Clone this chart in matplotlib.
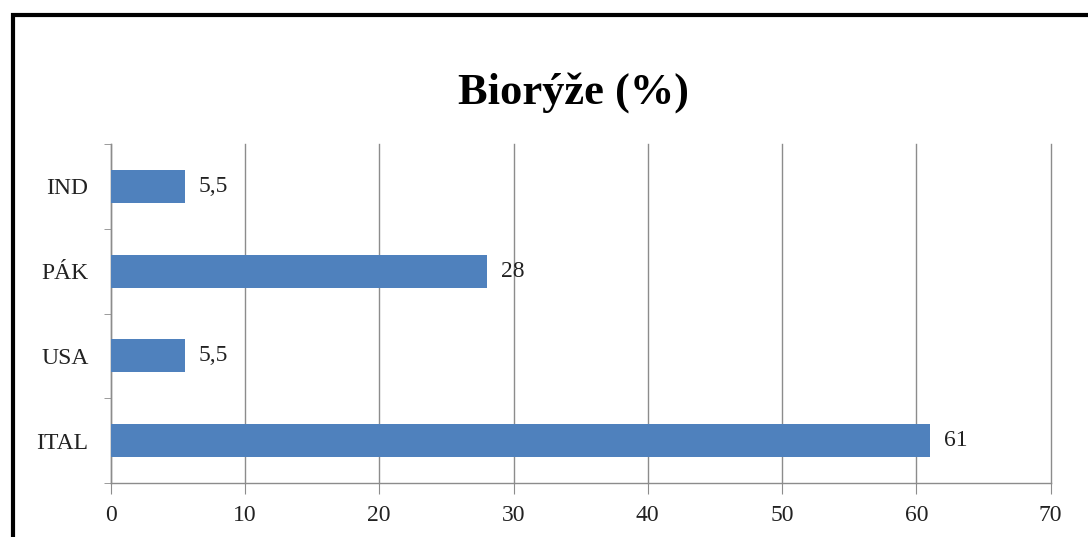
import matplotlib.pyplot as plt
from matplotlib.patches import Rectangle

countries = ["ITAL", "USA", "PÁK", "IND"]
shares = [61, 5.5, 28, 5.5]
share_labels = ["61", "5,5", "28", "5,5"]
x_ticks = [0, 10, 20, 30, 40, 50, 60, 70]

plt.rcParams['font.family'] = ['Liberation Serif', 'DejaVu Serif']

fig = plt.figure(figsize=(10.88, 5.37), dpi=100)
ax = fig.add_axes([0.1017, 0.1006, 0.864, 0.6312])

ypos = list(range(len(countries)))
ax.barh(ypos, shares, height=0.39, color="#4F81BD", zorder=3)
for y, v, lab in zip(ypos, shares, share_labels):
    ax.annotate(lab, (v, y), xytext=(10, 0), textcoords="offset points",
                va="center", ha="left", fontsize=17, color="#222222")

ax.set_xlim(0, 70)
ax.set_ylim(-0.5, len(countries) - 0.5)
ax.set_xticks(x_ticks)
ax.set_yticks(ypos)
ax.set_yticklabels(countries)
ax.set_yticks([i - 0.5 for i in range(len(countries) + 1)], minor=True)

ax.grid(axis="x", color="#8c8c8c", linewidth=1, zorder=0)
for line in ax.get_xgridlines():
    line.set_clip_on(False)
for s in ["top", "right"]:
    ax.spines[s].set_visible(False)
for s in ["left", "bottom"]:
    ax.spines[s].set_color("#8c8c8c")
    ax.spines[s].set_linewidth(1)

ax.tick_params(axis="x", length=8, color="#8c8c8c", labelsize=17, pad=8, labelcolor="#222222")
ax.tick_params(axis="y", which="major", length=0, labelsize=17, pad=16, labelcolor="#222222")
ax.tick_params(axis="y", which="minor", length=5, color="#8c8c8c")

fig.text(0.527, 0.828, "Biorýže (%)", ha="center", va="center",
         fontsize=32, fontweight="bold", color="black")

# outer frame of the chart area
fig.patches.append(Rectangle((12.5 / 1088, -0.2), 1.2, 1 - 14.5 / 537 + 0.2,
                             transform=fig.transFigure, fill=False,
                             edgecolor="black", linewidth=3, zorder=10))

fig.savefig("out.png", dpi=100, facecolor="white")
